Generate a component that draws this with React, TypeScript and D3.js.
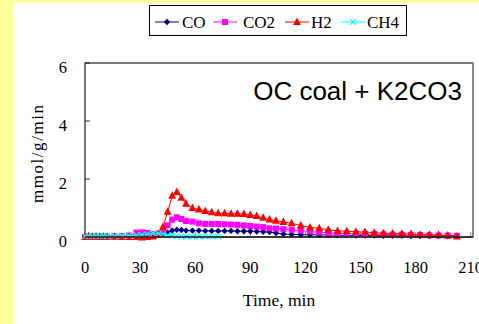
import * as d3 from 'd3';

// time points (min)
const times = [
  0, 2, 4, 6, 8, 10, 12, 16, 20, 24, 28, 31, 34, 37, 40, 42.5, 45, 47.5, 50, 52.5,
  55, 58.5, 62, 65.5, 69, 72.5, 76, 79.5, 83, 86.5, 90, 93.5, 97, 100.5, 104, 108,
  112.5, 117.5, 122.5, 127.5, 132.5, 137.5, 142.5, 147.5, 152.5, 157.5, 162.5,
  167.5, 172.5, 177.5, 182.5, 187.5, 192.5, 197.5, 202.5,
];

const coValues = [
  0.02, 0.05, 0.02, 0.03, 0.02, 0.03, 0.02, 0.03, 0.04, 0.04, 0.03, 0.05, 0.06, 0.08,
  0.1, 0.12, 0.15, 0.22, 0.25, 0.24, 0.22, 0.22, 0.22, 0.21, 0.21, 0.21, 0.21, 0.21,
  0.2, 0.2, 0.2, 0.19, 0.18, 0.17, 0.14, 0.1, 0.09, 0.08, 0.08, 0.07, 0.07, 0.06,
  0.06, 0.05, 0.05, 0.05, 0.04, 0.04, 0.04, 0.03, 0.03, 0.03, 0.03, 0.02, 0.02,
];

const co2Values = [
  0, 0.01, 0, 0.01, 0, 0.01, 0, 0.02, 0.03, 0.05, 0.15, 0.16, 0.14, 0.1, 0.12, 0.2,
  0.4, 0.6, 0.68, 0.62, 0.55, 0.53, 0.47, 0.45, 0.45, 0.45, 0.44, 0.43, 0.42, 0.4,
  0.38, 0.36, 0.34, 0.3, 0.29, 0.27, 0.25, 0.22, 0.19, 0.16, 0.14, 0.13, 0.12, 0.11,
  0.1, 0.1, 0.09, 0.08, 0.08, 0.07, 0.07, 0.06, 0.05, 0.05, 0.04,
];

const h2Values = [
  0.01, 0.02, 0.01, 0.02, 0.01, 0.02, 0.01, 0.01, 0, 0, 0, -0.02, 0, 0.02, 0.1, 0.35,
  0.87, 1.42, 1.55, 1.35, 1.15, 1.0, 0.95, 0.9, 0.85, 0.82, 0.82, 0.8, 0.8, 0.79,
  0.76, 0.72, 0.66, 0.6, 0.56, 0.52, 0.47, 0.4, 0.33, 0.3, 0.25, 0.21, 0.2, 0.18,
  0.17, 0.15, 0.13, 0.12, 0.11, 0.1, 0.08, 0.08, 0.07, 0.05, 0.02,
];

const ch4Values = [
  0.03, 0.04, 0.03, 0.04, 0.03, 0.04, 0.03, 0.04, 0.05, 0.05, 0.06, 0.08, 0.1, 0.13,
  0.12, 0.1, 0.06, 0.04, 0.03, 0.02, 0.02, 0.02, 0.02, 0.02, 0.02, 0.02,
];

const xTicks = [0, 30, 60, 90, 120, 150, 180, 210];
const yTicks = [0, 2, 4, 6];

type Shape = 'diamond' | 'square' | 'triangle' | 'cross';

const series: { name: string; values: number[]; color: string; shape: Shape }[] = [
  { name: 'CO', values: coValues, color: '#000080', shape: 'diamond' },
  { name: 'CO2', values: co2Values, color: '#FF00FF', shape: 'square' },
  { name: 'H2', values: h2Values, color: '#FF0000', shape: 'triangle' },
  { name: 'CH4', values: ch4Values, color: '#00FFFF', shape: 'cross' },
];

function Marker({ shape, x, y, color }: { shape: Shape; x: number; y: number; color: string }) {
  if (shape === 'diamond') {
    return <path d={`M${x},${y - 3.2}L${x + 3.2},${y}L${x},${y + 3.2}L${x - 3.2},${y}Z`} fill={color} />;
  }
  if (shape === 'square') {
    return <rect x={x - 3} y={y - 3} width={6} height={6} fill={color} />;
  }
  if (shape === 'triangle') {
    return <path d={`M${x},${y - 4.5}L${x + 4},${y + 3}L${x - 4},${y + 3}Z`} fill={color} />;
  }
  return (
    <path
      d={`M${x - 2.8},${y - 2.8}L${x + 2.8},${y + 2.8}M${x - 2.8},${y + 2.8}L${x + 2.8},${y - 2.8}`}
      stroke={color}
      strokeWidth={1.2}
    />
  );
}

export default function App() {
  const width = 479;
  const height = 324;
  const left = 85;
  const right = 473;
  const top = 63;
  const bottom = 237;

  const x = d3.scaleLinear().domain([0, 210]).range([left, left + 385.7]);
  const y = d3.scaleLinear().domain([0, 6]).range([bottom, top]);

  const line = d3
    .line<number>()
    .x((_, i) => x(times[i]))
    .y((d) => y(d));

  const serif = '"Liberation Serif", "Times New Roman", serif';

  const legendItems = [
    { lx: 155, tx: 182 },
    { lx: 213, tx: 243 },
    { lx: 285, tx: 311 },
    { lx: 341, tx: 367 },
  ];

  return (
    <svg
      width={width}
      height={height}
      style={{ position: 'absolute', left: 0, top: 0 }}
      fontFamily={serif}
    >
      <rect x={0} y={0} width={width} height={height} fill="#FFFF99" />
      <rect x={13} y={3} width={width - 13} height={height - 3} fill="#FFFFFF" />

      {/* legend */}
      <rect x={149.5} y={5.5} width={257} height={30} fill="#FFFFFF" stroke="#000" strokeWidth={1} />
      {series.map((s, i) => {
        const it = legendItems[i];
        return (
          <g key={s.name}>
            <line x1={it.lx} x2={it.lx + 24} y1={22} y2={22} stroke={s.color} strokeWidth={1} />
            <Marker shape={s.shape} x={it.lx + 12} y={22} color={s.color} />
            <text x={it.tx} y={28} fontSize={17} fill="#000">
              {s.name}
            </text>
          </g>
        );
      })}

      {/* plot frame */}
      <rect x={left} y={top} width={right - left} height={bottom - top} fill="#FFFFFF" stroke="#222" strokeWidth={1.2} />
      <line x1={right} x2={right} y1={top} y2={bottom} stroke="#888" strokeWidth={2} />

      {/* ticks */}
      {yTicks.map((t) => (
        <g key={'y' + t}>
          <line x1={left} x2={left + 5} y1={y(t)} y2={y(t)} stroke="#222" />
          <text x={67} y={y(t) + 9.5} fontSize={16.5} textAnchor="end">
            {t}
          </text>
        </g>
      ))}
      {xTicks.map((t) => (
        <g key={'x' + t}>
          <line x1={x(t)} x2={x(t)} y1={bottom} y2={bottom - 5} stroke="#888" />
          <text x={x(t)} y={273} fontSize={16.5} textAnchor="middle">
            {t}
          </text>
        </g>
      ))}

      {/* series */}
      {series.map((s) => (
        <g key={s.name}>
          <path d={line(s.values) || ''} fill="none" stroke={s.color} strokeWidth={1} />
          {s.values.map((v, i) => (
            <Marker key={i} shape={s.shape} x={x(times[i])} y={y(v)} color={s.color} />
          ))}
        </g>
      ))}

      <line x1={left} x2={right} y1={bottom} y2={bottom} stroke="#222" strokeWidth={1.5} />

      <text
        x={462}
        y={100}
        fontSize={26}
        textAnchor="end"
        fontFamily='"Liberation Sans", Arial, sans-serif'
      >
        OC coal + K2CO3
      </text>

      <text x={279} y={306} fontSize={17.5} textAnchor="middle">
        Time, min
      </text>
      <text
        transform={`translate(43,154) rotate(-90)`}
        fontSize={17}
        textAnchor="middle"
        textLength={98}
        lengthAdjust="spacing"
      >
        mmol/g/min
      </text>
    </svg>
  );
}
